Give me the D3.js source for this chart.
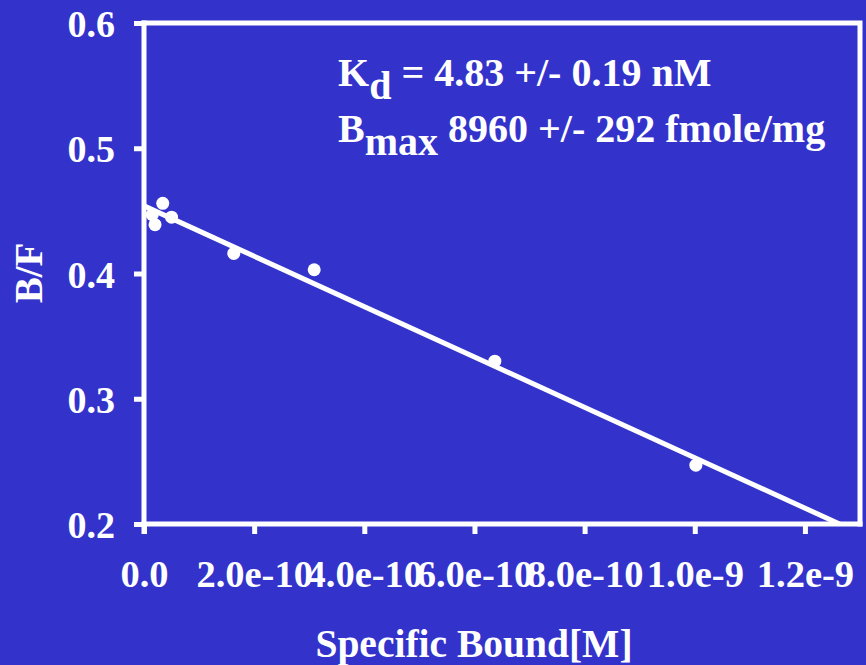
<!DOCTYPE html>
<html>
<head>
<meta charset="utf-8">
<script src="https://cdn.jsdelivr.net/npm/d3@7"></script>
<style>
html,body{margin:0;padding:0;background:#3333cc;}
svg{display:block;}
text{font-family:"Liberation Serif","Times New Roman",Times,serif;font-weight:bold;fill:#fff;}
</style>
</head>
<body>
<svg id="chart" width="866" height="665"></svg>
<script>
// Data (Scatchard plot)
const boundX = [1.5e-11, 2.0e-11, 3.4e-11, 5.0e-11, 1.63e-10, 3.09e-10, 6.37e-10, 1.002e-9];
const bfY    = [0.447, 0.439, 0.456, 0.445, 0.416, 0.403, 0.330, 0.247];
// Fitted regression line endpoints
const fitX = [0, 1.263e-9];
const fitY = [0.454, 0.2];
// Ticks
const xTicks = [0, 2e-10, 4e-10, 6e-10, 8e-10, 1e-9, 1.2e-9];
const xTickLabels = ["0.0", "2.0e-10", "4.0e-10", "6.0e-10", "8.0e-10", "1.0e-9", "1.2e-9"];
const yTicks = [0.2, 0.3, 0.4, 0.5, 0.6];
const yTickLabels = ["0.2", "0.3", "0.4", "0.5", "0.6"];
const xTitle = "Specific Bound[M]";
const yTitle = "B/F";
const annot1 = ["K", "d", " = 4.83 +/- 0.19 nM"];
const annot2 = ["B", "max", " 8960 +/- 292 fmole/mg"];

const svg = d3.select("#chart");
const W = 866, H = 665;
svg.append("rect").attr("width", W).attr("height", H).attr("fill", "#3333cc");

const L = 144, R = 860, T = 23, B = 524;
const x = d3.scaleLinear().domain([0, 1.3e-9]).range([L, R]);
const y = d3.scaleLinear().domain([0.2, 0.6]).range([B, T]);

const SW = 5;
// frame (top and right)
svg.append("path")
  .attr("d", `M${L},${T}H${R}V${B}`)
  .attr("fill", "none").attr("stroke", "#fff").attr("stroke-width", SW)
  .attr("stroke-linecap", "square");

// y axis
const yAxis = d3.axisLeft(y).tickValues(yTicks)
  .tickFormat((d, i) => yTickLabels[i]).tickSize(10).tickSizeOuter(0).tickPadding(19);
const gy = svg.append("g").attr("transform", `translate(${L},0)`).call(yAxis);
gy.select(".domain").attr("stroke", "#fff").attr("stroke-width", SW).attr("d", `M0,${T - 2.5}V${B + 10}`);
gy.selectAll(".tick line").attr("stroke", "#fff").attr("stroke-width", SW);
gy.selectAll(".tick text").attr("fill", "#fff").attr("font-size", 38).attr("dy", "0.36em")
  .style("font-family", '"Liberation Serif","Times New Roman",serif').style("font-weight", "bold");

// x axis
const xAxis = d3.axisBottom(x).tickValues(xTicks)
  .tickFormat((d, i) => xTickLabels[i]).tickSize(10).tickSizeOuter(0).tickPadding(26);
const gx = svg.append("g").attr("transform", `translate(0,${B})`).call(xAxis);
gx.select(".domain").attr("stroke", "#fff").attr("stroke-width", SW).attr("d", `M${L - 2.5},0H${R + 2.5}`);
gx.selectAll(".tick line").attr("stroke", "#fff").attr("stroke-width", SW);
gx.selectAll(".tick text").attr("fill", "#fff").attr("font-size", 38.5)
  .style("font-family", '"Liberation Serif","Times New Roman",serif').style("font-weight", "bold");

// fit line
svg.append("line")
  .attr("x1", x(fitX[0])).attr("y1", y(fitY[0]))
  .attr("x2", x(fitX[1])).attr("y2", y(fitY[1]))
  .attr("stroke", "#fff").attr("stroke-width", 5);

// points
svg.append("g").selectAll("circle")
  .data(boundX.map((d, i) => [d, bfY[i]]))
  .join("circle")
  .attr("cx", d => x(d[0])).attr("cy", d => y(d[1]))
  .attr("r", 6.5).attr("fill", "#fff");

// axis titles
svg.append("text").attr("x", 474).attr("y", 657).attr("text-anchor", "middle")
  .attr("font-size", 39.5).text(xTitle);
svg.append("text").attr("transform", `translate(42,273) rotate(-90)`)
  .attr("text-anchor", "middle").attr("font-size", 39).text(yTitle);

// annotation
function annot(parts, yBase) {
  const t = svg.append("text").attr("x", 338).attr("y", yBase).attr("font-size", 40);
  t.append("tspan").text(parts[0]);
  t.append("tspan").attr("dy", 13).text(parts[1]);
  t.append("tspan").attr("dy", -13).text(parts[2]);
}
annot(annot1, 86);
annot(annot2, 142);
</script>
</body>
</html>
